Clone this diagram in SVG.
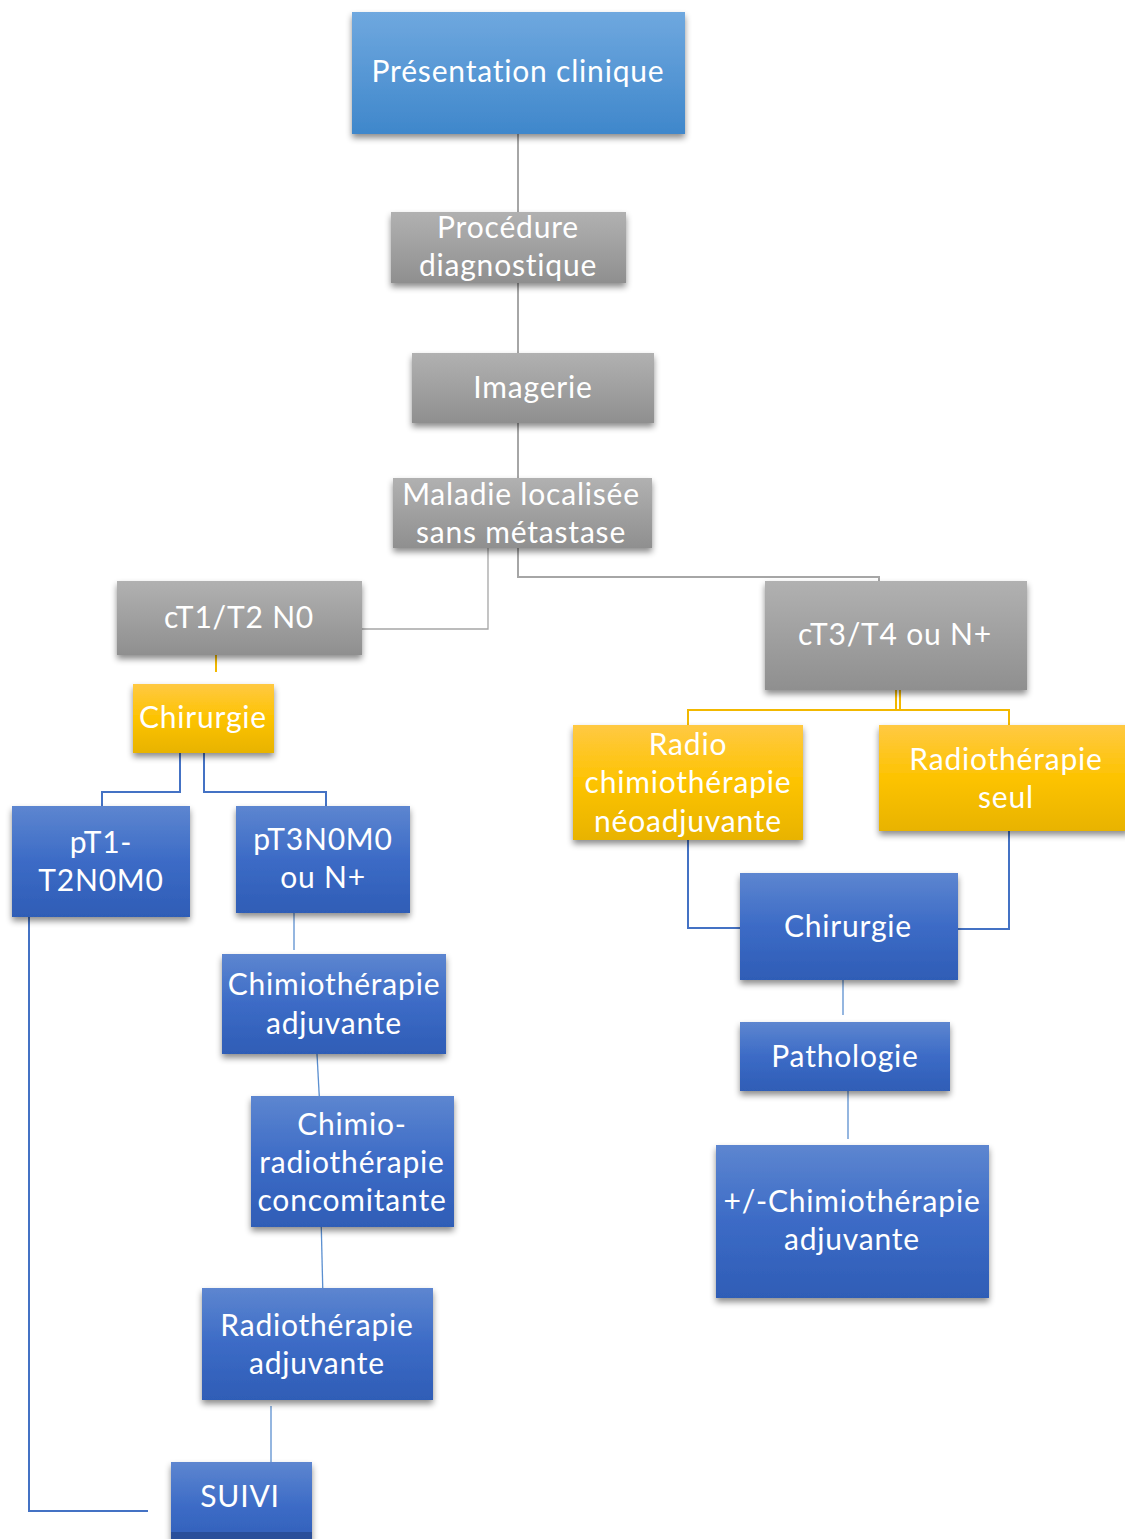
<svg xmlns="http://www.w3.org/2000/svg" width="1125" height="1539" viewBox="0 0 1125 1539">
<defs>
<linearGradient id="gTop" x1="0" y1="0" x2="0" y2="1"><stop offset="0" stop-color="#6fa8df"/><stop offset="1" stop-color="#3f87cb"/></linearGradient>
<linearGradient id="gGray" x1="0" y1="0" x2="0" y2="1"><stop offset="0" stop-color="#b1b1b1"/><stop offset="1" stop-color="#8f8f8f"/></linearGradient>
<linearGradient id="gYel" x1="0" y1="0" x2="0" y2="1"><stop offset="0" stop-color="#ffc943"/><stop offset="0.5" stop-color="#fdc300"/><stop offset="1" stop-color="#e8b300"/></linearGradient>
<linearGradient id="gBlue" x1="0" y1="0" x2="0" y2="1"><stop offset="0" stop-color="#5d86d0"/><stop offset="0.5" stop-color="#3c6bc6"/><stop offset="1" stop-color="#2f5db6"/></linearGradient>
<filter id="sh" x="-10%" y="-10%" width="120%" height="130%"><feDropShadow dx="0" dy="4" stdDeviation="3" flood-color="#000" flood-opacity="0.45"/></filter>
</defs>
<style>
text{font-family:Lato,"Open Sans","Liberation Sans",sans-serif;font-size:30px;letter-spacing:0.8px;fill:#ffffff;text-anchor:middle}
.top{fill:url(#gTop);filter:url(#sh)}
.gray{fill:url(#gGray);filter:url(#sh)}
.yel{fill:url(#gYel);filter:url(#sh)}
.blue{fill:url(#gBlue);filter:url(#sh)}
.cg{stroke:#a6a6a6;fill:none;stroke-width:2}
.cgt{stroke:#a6a6a6;fill:none;stroke-width:1.3}
.cy{stroke:#f2b800;fill:none;stroke-width:2}
.cb{stroke:#4472c4;fill:none;stroke-width:2}
.cbt{stroke:#5b8fd0;fill:none;stroke-width:1.3}
</style>
<rect width="1125" height="1539" fill="#ffffff"/>
<g id="connectors">
<path class="cg" d="M518,134V212M518,283V353M518,423V478"/>
<path class="cgt" d="M488,548V629H362"/>
<path class="cg" d="M518,548V577H879V581"/>
<path class="cy" d="M216,652V672"/>
<path class="cy" d="M896,690V710M900,690V710M688,725V710H1009V725"/>
<path class="cb" d="M180,753V792H102V806M204,753V792H326V806"/>
<path class="cbt" d="M294,903V950"/>
<path class="cbt" d="M317,1054L320,1110"/>
<path class="cbt" d="M321,1215L323,1299"/>
<path class="cbt" d="M271,1406V1465"/>
<path class="cb" d="M29,917V1511H148"/>
<path class="cb" d="M688,840V928H740"/>
<path class="cb" d="M1009,831V929H958"/>
<path class="cbt" d="M843,967V1015"/>
<path class="cbt" d="M848,1079V1139"/>
</g>
<g id="n-presentation"><rect class="top" x="352" y="12" width="333" height="122"/><text x="518" y="82">Présentation clinique</text></g>
<g id="n-procedure"><rect class="gray" x="391" y="212" width="235" height="71"/><text x="508" y="238">Procédure</text><text x="508" y="276">diagnostique</text></g>
<g id="n-imagerie"><rect class="gray" x="412" y="353" width="242" height="70"/><text x="533" y="398">Imagerie</text></g>
<g id="n-maladie"><rect class="gray" x="393" y="478" width="259" height="70"/><text x="521" y="505">Maladie localisée</text><text x="521" y="543">sans métastase</text></g>
<g id="n-ct1"><rect class="gray" x="117" y="581" width="245" height="74"/><text x="239" y="628">cT1/T2 N0</text></g>
<g id="n-ct3"><rect class="gray" x="765" y="581" width="262" height="109"/><text x="895" y="645">cT3/T4 ou N+</text></g>
<g id="n-chir1"><rect class="yel" x="133" y="684" width="141" height="69"/><text x="203" y="728">Chirurgie</text></g>
<g id="n-radiochimio"><rect class="yel" x="573" y="725" width="230" height="115"/><text x="688" y="755">Radio</text><text x="688" y="793">chimiothérapie</text><text x="688" y="832">néoadjuvante</text></g>
<g id="n-radioseul"><rect class="yel" x="879" y="725" width="250" height="106"/><text x="1006" y="770">Radiothérapie</text><text x="1006" y="808">seul</text></g>
<g id="n-pt1"><rect class="blue" x="12" y="806" width="178" height="111"/><text x="101" y="853">pT1-</text><text x="101" y="891">T2N0M0</text></g>
<g id="n-pt3"><rect class="blue" x="236" y="806" width="174" height="107"/><text x="323" y="850">pT3N0M0</text><text x="323" y="888">ou N+</text></g>
<g id="n-chimioadj"><rect class="blue" x="222" y="954" width="224" height="100"/><text x="334" y="995">Chimiothérapie</text><text x="334" y="1034">adjuvante</text></g>
<g id="n-chimioradio"><rect class="blue" x="251" y="1096" width="203" height="131"/><text x="352" y="1135">Chimio-</text><text x="352" y="1173">radiothérapie</text><text x="352" y="1211">concomitante</text></g>
<g id="n-radioadj"><rect class="blue" x="202" y="1288" width="231" height="112"/><text x="317" y="1336">Radiothérapie</text><text x="317" y="1374">adjuvante</text></g>
<g id="n-suivi"><rect class="blue" x="171" y="1462" width="141" height="90"/><rect x="171" y="1532" width="141" height="7" fill="#2a4f9a"/><text x="240" y="1507">SUIVI</text></g>
<g id="n-chir2"><rect class="blue" x="740" y="873" width="218" height="107"/><text x="848" y="937">Chirurgie</text></g>
<g id="n-patho"><rect class="blue" x="740" y="1022" width="210" height="69"/><text x="845" y="1067">Pathologie</text></g>
<g id="n-chimiopm"><rect class="blue" x="716" y="1145" width="273" height="153"/><text x="852" y="1212">+/-Chimiothérapie</text><text x="852" y="1250">adjuvante</text></g>
</svg>
